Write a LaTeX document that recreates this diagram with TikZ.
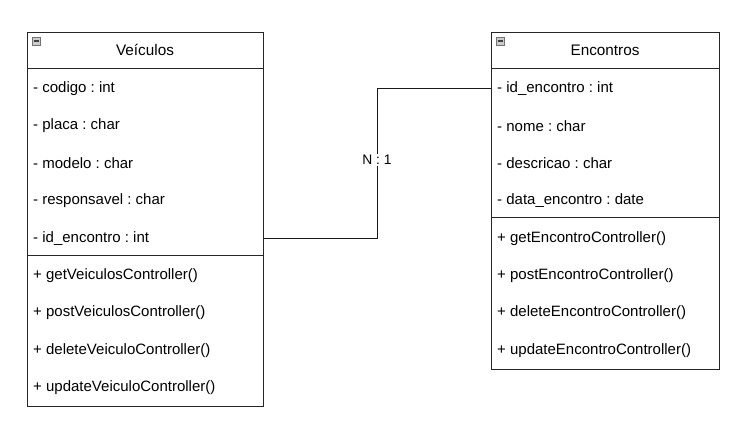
\documentclass[tikz,border=0pt]{standalone}
\usepackage{fontspec}
\setmainfont{Liberation Sans}
\usetikzlibrary{positioning}

\tikzset{
  classbox/.style={draw=black!85,line width=1pt,anchor=north west,inner sep=0pt},
  member/.style={anchor=west,inner sep=0pt,font=\fontsize{15}{17}\selectfont},
  title/.style={inner sep=0pt,font=\fontsize{15.3}{17}\selectfont},
  sep/.style={draw=black!85,line width=1pt},
  conn/.style={draw=black!90,line width=0.9pt},
  fold/.style={draw=black!55,fill=black!20,line width=0.6pt,minimum size=8pt,inner sep=0pt}
}

\begin{document}
\frenchspacing
\begin{tikzpicture}[x=1pt,y=-1pt]
  \useasboundingbox (0,0) rectangle (738,431);
  % classes
  \node[classbox,minimum width=236pt,minimum height=374pt] (veic) at (27,32) {};
  \node[classbox,minimum width=228pt,minimum height=337pt] (enc) at (491,32) {};
  \node[title] (veictitle) at (145,50) {Veículos};
  \node[title] (enctitle) at (605,50) {Encontros};
  \node[fold] (veicfold) at (36.5,41) {};
  \node[fold] (encfold) at (500.5,41) {};
  \draw[black!75,line width=1.2pt] (veicfold.west) ++(1.5pt,0) -- ++(5pt,0);
  \draw[black!75,line width=1.2pt] (encfold.west) ++(1.5pt,0) -- ++(5pt,0);
  % Veiculos
  \node[member] (v1) at (33,88.5) {- codigo : int};
  \node[member] (v2) at (33,126) {- placa : char};
  \node[member] (v3) at (33,163.5) {- modelo : char};
  \node[member] (v4) at (33,201) {- responsavel : char};
  \node[member] (v5) at (33,238.5) {- id\_encontro : int};
  \node[member] (v6) at (33,275.5) {+ getVeiculosController()};
  \node[member] (v7) at (33,313) {+ postVeiculosController()};
  \node[member] (v8) at (33,350.5) {+ deleteVeiculoController()};
  \node[member] (v9) at (33,388) {+ updateVeiculoController()};
  \draw[sep] (27,68) -- (263,68);
  \draw[sep] (27,255) -- (263,255);
  % Encontros
  \node[member] (e1) at (497,88.5) {- id\_encontro : int};
  \node[member] (e2) at (497,126) {- nome : char};
  \node[member] (e3) at (497,163.5) {- descricao : char};
  \node[member] (e4) at (497,201) {- data\_encontro : date};
  \node[member] (e5) at (497,238.5) {+ getEncontroController()};
  \node[member] (e6) at (497,275.5) {+ postEncontroController()};
  \node[member] (e7) at (497,313) {+ deleteEncontroController()};
  \node[member] (e8) at (497,350.5) {+ updateEncontroController()};
  \draw[sep] (491,68) -- (719,68);
  \draw[sep] (491,217) -- (719,217);
  % relation
  \coordinate (bend) at (377,160);
  \draw[conn] (v5 -| veic.east) -- (v5 -| bend) -- (e1 -| bend) -- (e1 -| enc.west);
  \node[fill=white,inner sep=1pt,font=\fontsize{13.8}{15}\selectfont] (card) at (bend) {N : 1};
\end{tikzpicture}
\end{document}
